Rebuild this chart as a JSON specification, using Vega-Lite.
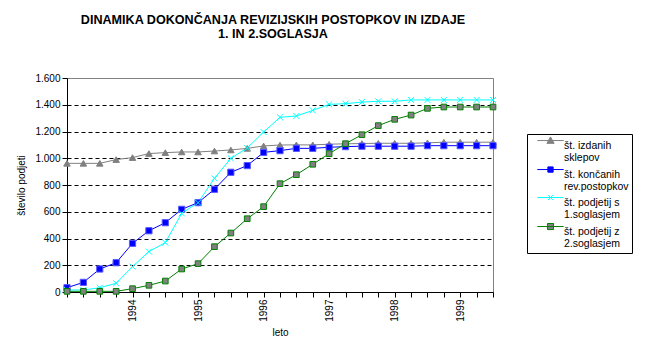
{
  "$schema": "https://vega.github.io/schema/vega-lite/v6.json",
  "width": 426,
  "height": 214,
  "autosize": "none",
  "padding": {"left": 67, "top": 78, "right": 163, "bottom": 65},
  "background": "white",
  "title": {
    "text": ["DINAMIKA DOKONČANJA REVIZIJSKIH POSTOPKOV IN IZDAJE", "1. IN  2.SOGLASJA"],
    "font": "Liberation Sans",
    "fontSize": 12.6,
    "fontWeight": "bold",
    "lineHeight": 14,
    "anchor": "middle",
    "baseline": "bottom",
    "offset": 19,
    "dx": -7,
    "color": "black"
  },
  "config": {
    "view": {"stroke": "#808080", "strokeWidth": 1},
    "font": "Liberation Sans",
    "axis": {
      "labelFont": "Liberation Sans",
      "labelFontSize": 10,
      "labelColor": "black",
      "titleFont": "Liberation Sans",
      "titleFontSize": 10,
      "titleFontWeight": "normal",
      "titleColor": "black",
      "domainColor": "black",
      "tickColor": "black",
      "tickSize": 5
    }
  },
  "data": {
    "values": [
      {"leto": 1993.0, "serija": "št. izdanih sklepov", "stevilo": 962},
      {"leto": 1993.25, "serija": "št. izdanih sklepov", "stevilo": 962},
      {"leto": 1993.5, "serija": "št. izdanih sklepov", "stevilo": 962},
      {"leto": 1993.75, "serija": "št. izdanih sklepov", "stevilo": 990},
      {"leto": 1994.0, "serija": "št. izdanih sklepov", "stevilo": 1005},
      {"leto": 1994.25, "serija": "št. izdanih sklepov", "stevilo": 1035},
      {"leto": 1994.5, "serija": "št. izdanih sklepov", "stevilo": 1042},
      {"leto": 1994.75, "serija": "št. izdanih sklepov", "stevilo": 1047},
      {"leto": 1995.0, "serija": "št. izdanih sklepov", "stevilo": 1047},
      {"leto": 1995.25, "serija": "št. izdanih sklepov", "stevilo": 1054},
      {"leto": 1995.5, "serija": "št. izdanih sklepov", "stevilo": 1062},
      {"leto": 1995.75, "serija": "št. izdanih sklepov", "stevilo": 1074},
      {"leto": 1996.0, "serija": "št. izdanih sklepov", "stevilo": 1092},
      {"leto": 1996.25, "serija": "št. izdanih sklepov", "stevilo": 1099},
      {"leto": 1996.5, "serija": "št. izdanih sklepov", "stevilo": 1100},
      {"leto": 1996.75, "serija": "št. izdanih sklepov", "stevilo": 1100},
      {"leto": 1997.0, "serija": "št. izdanih sklepov", "stevilo": 1105},
      {"leto": 1997.25, "serija": "št. izdanih sklepov", "stevilo": 1108},
      {"leto": 1997.5, "serija": "št. izdanih sklepov", "stevilo": 1110},
      {"leto": 1997.75, "serija": "št. izdanih sklepov", "stevilo": 1112},
      {"leto": 1998.0, "serija": "št. izdanih sklepov", "stevilo": 1112},
      {"leto": 1998.25, "serija": "št. izdanih sklepov", "stevilo": 1112},
      {"leto": 1998.5, "serija": "št. izdanih sklepov", "stevilo": 1115},
      {"leto": 1998.75, "serija": "št. izdanih sklepov", "stevilo": 1120},
      {"leto": 1999.0, "serija": "št. izdanih sklepov", "stevilo": 1120},
      {"leto": 1999.25, "serija": "št. izdanih sklepov", "stevilo": 1120},
      {"leto": 1999.5, "serija": "št. izdanih sklepov", "stevilo": 1120},
      {"leto": 1993.0, "serija": "št. končanih rev.postopkov", "stevilo": 32},
      {"leto": 1993.25, "serija": "št. končanih rev.postopkov", "stevilo": 72},
      {"leto": 1993.5, "serija": "št. končanih rev.postopkov", "stevilo": 172},
      {"leto": 1993.75, "serija": "št. končanih rev.postopkov", "stevilo": 219},
      {"leto": 1994.0, "serija": "št. končanih rev.postopkov", "stevilo": 364},
      {"leto": 1994.25, "serija": "št. končanih rev.postopkov", "stevilo": 458},
      {"leto": 1994.5, "serija": "št. končanih rev.postopkov", "stevilo": 518},
      {"leto": 1994.75, "serija": "št. končanih rev.postopkov", "stevilo": 618},
      {"leto": 1995.0, "serija": "št. končanih rev.postopkov", "stevilo": 668},
      {"leto": 1995.25, "serija": "št. končanih rev.postopkov", "stevilo": 768},
      {"leto": 1995.5, "serija": "št. končanih rev.postopkov", "stevilo": 895},
      {"leto": 1995.75, "serija": "št. končanih rev.postopkov", "stevilo": 945},
      {"leto": 1996.0, "serija": "št. končanih rev.postopkov", "stevilo": 1044},
      {"leto": 1996.25, "serija": "št. končanih rev.postopkov", "stevilo": 1057},
      {"leto": 1996.5, "serija": "št. končanih rev.postopkov", "stevilo": 1074},
      {"leto": 1996.75, "serija": "št. končanih rev.postopkov", "stevilo": 1074},
      {"leto": 1997.0, "serija": "št. končanih rev.postopkov", "stevilo": 1082},
      {"leto": 1997.25, "serija": "št. končanih rev.postopkov", "stevilo": 1087},
      {"leto": 1997.5, "serija": "št. končanih rev.postopkov", "stevilo": 1090},
      {"leto": 1997.75, "serija": "št. končanih rev.postopkov", "stevilo": 1090},
      {"leto": 1998.0, "serija": "št. končanih rev.postopkov", "stevilo": 1090},
      {"leto": 1998.25, "serija": "št. končanih rev.postopkov", "stevilo": 1090},
      {"leto": 1998.5, "serija": "št. končanih rev.postopkov", "stevilo": 1094},
      {"leto": 1998.75, "serija": "št. končanih rev.postopkov", "stevilo": 1094},
      {"leto": 1999.0, "serija": "št. končanih rev.postopkov", "stevilo": 1094},
      {"leto": 1999.25, "serija": "št. končanih rev.postopkov", "stevilo": 1094},
      {"leto": 1999.5, "serija": "št. končanih rev.postopkov", "stevilo": 1094},
      {"leto": 1993.0, "serija": "št. podjetij s 1.soglasjem", "stevilo": 15},
      {"leto": 1993.25, "serija": "št. podjetij s 1.soglasjem", "stevilo": 15},
      {"leto": 1993.5, "serija": "št. podjetij s 1.soglasjem", "stevilo": 32},
      {"leto": 1993.75, "serija": "št. podjetij s 1.soglasjem", "stevilo": 65},
      {"leto": 1994.0, "serija": "št. podjetij s 1.soglasjem", "stevilo": 190},
      {"leto": 1994.25, "serija": "št. podjetij s 1.soglasjem", "stevilo": 302},
      {"leto": 1994.5, "serija": "št. podjetij s 1.soglasjem", "stevilo": 369},
      {"leto": 1994.75, "serija": "št. podjetij s 1.soglasjem", "stevilo": 588},
      {"leto": 1995.0, "serija": "št. podjetij s 1.soglasjem", "stevilo": 668},
      {"leto": 1995.25, "serija": "št. podjetij s 1.soglasjem", "stevilo": 850},
      {"leto": 1995.5, "serija": "št. podjetij s 1.soglasjem", "stevilo": 999},
      {"leto": 1995.75, "serija": "št. podjetij s 1.soglasjem", "stevilo": 1077},
      {"leto": 1996.0, "serija": "št. podjetij s 1.soglasjem", "stevilo": 1196},
      {"leto": 1996.25, "serija": "št. podjetij s 1.soglasjem", "stevilo": 1306},
      {"leto": 1996.5, "serija": "št. podjetij s 1.soglasjem", "stevilo": 1316},
      {"leto": 1996.75, "serija": "št. podjetij s 1.soglasjem", "stevilo": 1358},
      {"leto": 1997.0, "serija": "št. podjetij s 1.soglasjem", "stevilo": 1403},
      {"leto": 1997.25, "serija": "št. podjetij s 1.soglasjem", "stevilo": 1408},
      {"leto": 1997.5, "serija": "št. podjetij s 1.soglasjem", "stevilo": 1420},
      {"leto": 1997.75, "serija": "št. podjetij s 1.soglasjem", "stevilo": 1426},
      {"leto": 1998.0, "serija": "št. podjetij s 1.soglasjem", "stevilo": 1426},
      {"leto": 1998.25, "serija": "št. podjetij s 1.soglasjem", "stevilo": 1436},
      {"leto": 1998.5, "serija": "št. podjetij s 1.soglasjem", "stevilo": 1436},
      {"leto": 1998.75, "serija": "št. podjetij s 1.soglasjem", "stevilo": 1436},
      {"leto": 1999.0, "serija": "št. podjetij s 1.soglasjem", "stevilo": 1436},
      {"leto": 1999.25, "serija": "št. podjetij s 1.soglasjem", "stevilo": 1436},
      {"leto": 1999.5, "serija": "št. podjetij s 1.soglasjem", "stevilo": 1436},
      {"leto": 1993.0, "serija": "št. podjetij z 2.soglasjem", "stevilo": 5},
      {"leto": 1993.25, "serija": "št. podjetij z 2.soglasjem", "stevilo": 5},
      {"leto": 1993.5, "serija": "št. podjetij z 2.soglasjem", "stevilo": 5},
      {"leto": 1993.75, "serija": "št. podjetij z 2.soglasjem", "stevilo": 5},
      {"leto": 1994.0, "serija": "št. podjetij z 2.soglasjem", "stevilo": 25},
      {"leto": 1994.25, "serija": "št. podjetij z 2.soglasjem", "stevilo": 50},
      {"leto": 1994.5, "serija": "št. podjetij z 2.soglasjem", "stevilo": 82},
      {"leto": 1994.75, "serija": "št. podjetij z 2.soglasjem", "stevilo": 172},
      {"leto": 1995.0, "serija": "št. podjetij z 2.soglasjem", "stevilo": 212},
      {"leto": 1995.25, "serija": "št. podjetij z 2.soglasjem", "stevilo": 339},
      {"leto": 1995.5, "serija": "št. podjetij z 2.soglasjem", "stevilo": 441},
      {"leto": 1995.75, "serija": "št. podjetij z 2.soglasjem", "stevilo": 548},
      {"leto": 1996.0, "serija": "št. podjetij z 2.soglasjem", "stevilo": 638},
      {"leto": 1996.25, "serija": "št. podjetij z 2.soglasjem", "stevilo": 810},
      {"leto": 1996.5, "serija": "št. podjetij z 2.soglasjem", "stevilo": 877},
      {"leto": 1996.75, "serija": "št. podjetij z 2.soglasjem", "stevilo": 955},
      {"leto": 1997.0, "serija": "št. podjetij z 2.soglasjem", "stevilo": 1034},
      {"leto": 1997.25, "serija": "št. podjetij z 2.soglasjem", "stevilo": 1109},
      {"leto": 1997.5, "serija": "št. podjetij z 2.soglasjem", "stevilo": 1176},
      {"leto": 1997.75, "serija": "št. podjetij z 2.soglasjem", "stevilo": 1244},
      {"leto": 1998.0, "serija": "št. podjetij z 2.soglasjem", "stevilo": 1291},
      {"leto": 1998.25, "serija": "št. podjetij z 2.soglasjem", "stevilo": 1323},
      {"leto": 1998.5, "serija": "št. podjetij z 2.soglasjem", "stevilo": 1373},
      {"leto": 1998.75, "serija": "št. podjetij z 2.soglasjem", "stevilo": 1383},
      {"leto": 1999.0, "serija": "št. podjetij z 2.soglasjem", "stevilo": 1383},
      {"leto": 1999.25, "serija": "št. podjetij z 2.soglasjem", "stevilo": 1383},
      {"leto": 1999.5, "serija": "št. podjetij z 2.soglasjem", "stevilo": 1383}
    ]
  },
  "encoding": {
    "x": {
      "field": "leto",
      "type": "quantitative",
      "scale": {"domain": [1993, 1999.5], "nice": false, "zero": false},
      "axis": {
        "title": "leto",
        "values": [1993, 1993.25, 1993.5, 1993.75, 1994, 1994.25, 1994.5, 1994.75, 1995, 1995.25, 1995.5, 1995.75, 1996, 1996.25, 1996.5, 1996.75, 1997, 1997.25, 1997.5, 1997.75, 1998, 1998.25, 1998.5, 1998.75, 1999, 1999.25, 1999.5],
        "labelExpr": "datum.value % 1 === 0 && datum.value > 1993 ? format(datum.value, 'd') : ''",
        "labelAngle": 270,
        "labelPadding": 2,
        "labelOverlap": false,
        "labelBound": false,
        "grid": false,
        "titlePadding": 6
      }
    },
    "y": {
      "field": "stevilo",
      "type": "quantitative",
      "scale": {"domain": [0, 1600], "nice": false},
      "axis": {
        "title": "število podjeti",
        "values": [0, 200, 400, 600, 800, 1000, 1200, 1400, 1600],
        "labelExpr": "replace(format(datum.value, ','), ',', '.')",
        "labelPadding": 2,
        "grid": true,
        "gridColor": "black",
        "gridDash": [4, 3],
        "gridOpacity": {"condition": {"test": "datum.value == 0 || datum.value == 1600", "value": 0}, "value": 1},
        "titlePadding": 8
      }
    }
  },
  "resolve": {"scale": {"shape": "independent", "fill": "independent", "stroke": "independent", "size": "independent"}},
  "layer": [
    {
      "mark": {"type": "line", "strokeWidth": 1},
      "encoding": {
        "color": {
          "field": "serija",
          "type": "nominal",
          "scale": {
            "domain": ["št. izdanih sklepov", "št. končanih rev.postopkov", "št. podjetij s 1.soglasjem", "št. podjetij z 2.soglasjem"],
            "range": ["#808080", "#0000ff", "#00ffff", "#008000"]
          },
          "legend": null
        }
      }
    },
    {
      "mark": {"type": "point", "filled": true, "strokeWidth": 1, "opacity": 1},
      "encoding": {
        "shape": {
          "field": "serija",
          "type": "nominal",
          "scale": {
            "domain": ["št. izdanih sklepov", "št. končanih rev.postopkov", "št. podjetij s 1.soglasjem", "št. podjetij z 2.soglasjem"],
            "range": ["triangle-up", "square", "M-1,-1L1,1M-1,1L1,-1", "square"]
          },
          "legend": null
        },
        "fill": {
          "field": "serija",
          "type": "nominal",
          "scale": {
            "domain": ["št. izdanih sklepov", "št. končanih rev.postopkov", "št. podjetij s 1.soglasjem", "št. podjetij z 2.soglasjem"],
            "range": ["#808080", "#0000ff", "transparent", "#808080"]
          },
          "legend": null
        },
        "stroke": {
          "field": "serija",
          "type": "nominal",
          "scale": {
            "domain": ["št. izdanih sklepov", "št. končanih rev.postopkov", "št. podjetij s 1.soglasjem", "št. podjetij z 2.soglasjem"],
            "range": ["#808080", "#5a5aff", "#00ffff", "#008000"]
          },
          "legend": null
        },
        "size": {
          "field": "serija",
          "type": "nominal",
          "scale": {
            "domain": ["št. izdanih sklepov", "št. končanih rev.postopkov", "št. podjetij s 1.soglasjem", "št. podjetij z 2.soglasjem"],
            "range": [42, 32, 30, 42]
          },
          "legend": null
        }
      }
    },
    {
      "transform": [{"filter": "false"}],
      "mark": {"type": "point", "filled": true, "strokeWidth": 1, "opacity": 1},
      "encoding": {
        "shape": {
          "field": "serija",
          "type": "nominal",
          "scale": {
            "domain": ["št. izdanih sklepov", "št. končanih rev.postopkov", "št. podjetij s 1.soglasjem", "št. podjetij z 2.soglasjem"],
            "range": [
              "M-1.65,-0.62H1.65M0,-1.07L0.45,-0.27L-0.45,-0.27Z",
              "M-1.65,-0.62H1.65M-0.33,-0.95H0.33V-0.29H-0.33Z",
              "M-1.65,-0.62H1.65M-0.3,-0.92L0.3,-0.32M-0.3,-0.32L0.3,-0.92",
              "M-1.65,-0.62H1.65M-0.38,-1H0.38V-0.24H-0.38Z"
            ]
          },
          "legend": {
            "title": null,
            "orient": "none",
            "legendX": 460,
            "legendY": 56,
            "padding": 3,
            "strokeColor": "black",
            "fillColor": "white",
            "symbolSize": 256,
            "symbolOffset": 12,
            "symbolStrokeWidth": 1,
            "rowPadding": 0,
            "labelOffset": 5,
            "labelFont": "Liberation Sans",
            "labelFontSize": 10.5,
            "labelColor": "black",
            "labelLimit": 0,
            "labelExpr": "[slice(datum.label, 0, lastindexof(datum.label, ' ')), slice(datum.label, lastindexof(datum.label, ' ') + 1)]"
          }
        },
        "fill": {
          "field": "serija",
          "type": "nominal",
          "scale": {
            "domain": ["št. izdanih sklepov", "št. končanih rev.postopkov", "št. podjetij s 1.soglasjem", "št. podjetij z 2.soglasjem"],
            "range": ["#808080", "#0000ff", "transparent", "#808080"]
          }
        },
        "stroke": {
          "field": "serija",
          "type": "nominal",
          "scale": {
            "domain": ["št. izdanih sklepov", "št. končanih rev.postopkov", "št. podjetij s 1.soglasjem", "št. podjetij z 2.soglasjem"],
            "range": ["#808080", "#0000ff", "#00ffff", "#008000"]
          }
        }
      }
    }
  ]
}
